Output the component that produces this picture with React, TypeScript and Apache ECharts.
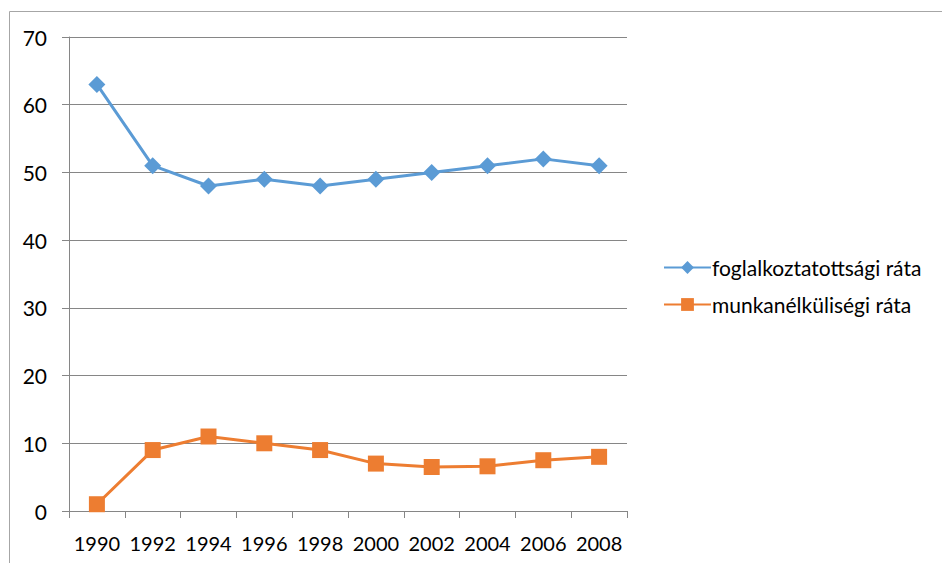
import React, { useEffect, useRef } from "react";
import * as echarts from "echarts";

const years = ["1990", "1992", "1994", "1996", "1998", "2000", "2002", "2004", "2006", "2008"];
const employment = [63, 51, 48, 49, 48, 49, 50, 51, 52, 51];
const unemployment = [1, 9, 11, 10, 9, 7, 6.5, 6.6, 7.5, 8];
const yTicks = { min: 0, max: 70, interval: 10 };
const names = ["foglalkoztatottsági ráta", "munkanélküliségi ráta"];

const FONT = "Lato, 'Open Sans', sans-serif";

export default function App() {
  const ref = useRef<HTMLDivElement>(null);
  useEffect(() => {
    const chart = echarts.init(ref.current!, null, { renderer: "svg" });
    chart.setOption({
      animation: false,
      backgroundColor: "#fff",
      textStyle: { fontFamily: FONT },
      graphic: [
        {
          type: "rect",
          shape: { x: 9.5, y: 11.5, width: 1000, height: 1000 },
          style: { fill: "none", stroke: "#a6a6a6", lineWidth: 1 },
          silent: true,
        },
      ],
      grid: { left: 69, right: 315, top: 37, bottom: 52, containLabel: false },
      legend: {
        orient: "vertical",
        left: 658,
        top: 252,
        itemWidth: 47,
        itemHeight: 16,
        itemGap: 16,
        textStyle: { fontSize: 21, color: "#000", fontFamily: FONT, padding: [0, 0, 0, -4] },
        data: names,
      },
      xAxis: {
        type: "category",
        data: years,
        boundaryGap: true,
        axisLine: { show: true, lineStyle: { color: "#868686", width: 1 } },
        axisTick: { show: true, interval: 0, length: 7, alignWithLabel: false, lineStyle: { color: "#868686" } },
        axisLabel: { interval: 0, hideOverlap: false, fontSize: 20, color: "#000", margin: 22, fontFamily: FONT },
        splitLine: { show: false },
      },
      yAxis: {
        type: "value",
        min: yTicks.min,
        max: yTicks.max,
        interval: yTicks.interval,
        axisLine: { show: true, lineStyle: { color: "#868686", width: 1 } },
        axisTick: { show: true, length: 7, lineStyle: { color: "#868686" } },
        axisLabel: { fontSize: 21, color: "#000", margin: 22, fontFamily: FONT },
        splitLine: { show: true, lineStyle: { color: "#868686", width: 1 } },
      },
      series: [
        {
          name: names[0],
          type: "line",
          data: employment,
          color: "#5B9BD5",
          symbol: "diamond",
          symbolSize: 17,
          lineStyle: { width: 3, color: "#5B9BD5" },
          itemStyle: { color: "#5B9BD5" },
        },
        {
          name: names[1],
          type: "line",
          data: unemployment,
          color: "#ED7D31",
          symbol: "rect",
          symbolSize: 16,
          lineStyle: { width: 3, color: "#ED7D31" },
          itemStyle: { color: "#ED7D31" },
        },
      ],
    });
    return () => chart.dispose();
  }, []);
  return (
    <div
      ref={ref}
      style={{ position: "fixed", left: 0, top: 0, width: 942, height: 563 }}
    />
  );
}
